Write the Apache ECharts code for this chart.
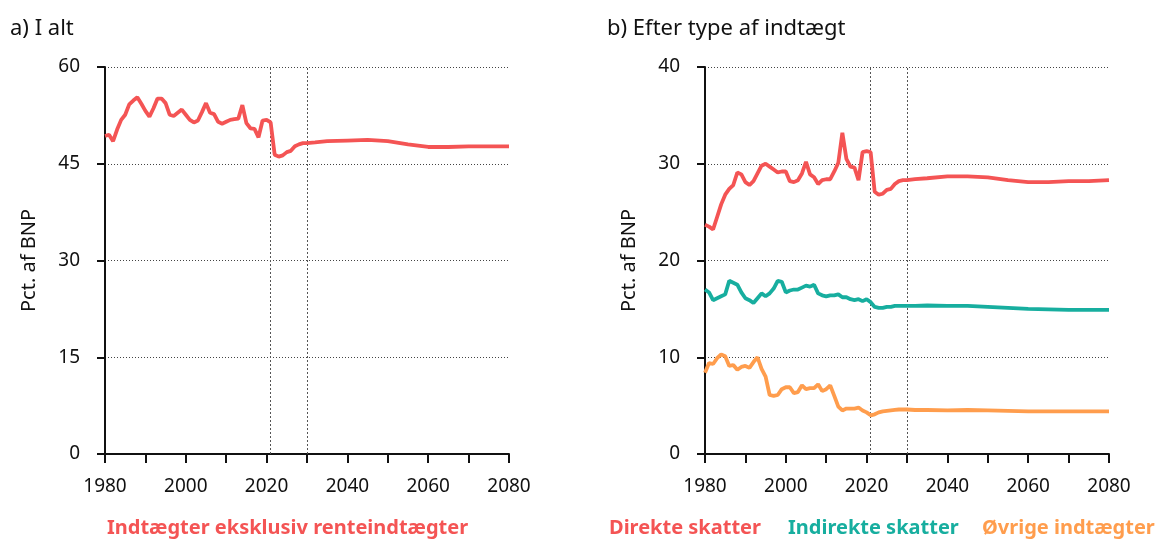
<!DOCTYPE html>
<html>
<head>
<meta charset="utf-8">
<script src="https://cdn.jsdelivr.net/npm/echarts@6/dist/echarts.min.js"></script>
<style>
    html, body { margin: 0; padding: 0; background: #fff; }
    #chart { width: 1158px; height: 541px; }
</style>
</head>
<body>
<div id="chart"></div>
<script>
// år: historik årligt, fremskrivning med spring
var years = [
    1980, 1981, 1982, 1983, 1984, 1985, 1986, 1987, 1988, 1989,
    1990, 1991, 1992, 1993, 1994, 1995, 1996, 1997, 1998, 1999,
    2000, 2001, 2002, 2003, 2004, 2005, 2006, 2007, 2008, 2009,
    2010, 2011, 2012, 2013, 2014, 2015, 2016, 2017, 2018, 2019,
    2020, 2021, 2022, 2023, 2024, 2025, 2026, 2027, 2028, 2029,
    2030, 2032, 2035, 2040, 2045, 2050, 2055, 2060, 2065, 2070,
    2075, 2080
];

// a) I alt
var totalRevenue = [
    49.3, 49.5, 48.5, 50.3, 51.8, 52.6, 54.2, 54.8, 55.3, 54.3,
    53.2, 52.3, 53.6, 55.1, 55.1, 54.4, 52.6, 52.4, 52.9, 53.4,
    52.6, 51.8, 51.4, 51.7, 53.0, 54.4, 52.9, 52.7, 51.5, 51.2,
    51.5, 51.8, 51.9, 52.0, 54.1, 51.3, 50.5, 50.4, 49.1, 51.7,
    51.8, 51.4, 46.4, 46.1, 46.3, 46.8, 47.0, 47.7, 48.0, 48.2,
    48.2, 48.3, 48.5, 48.6, 48.7, 48.5, 48.0, 47.6, 47.6, 47.7,
    47.7, 47.7
];

// b) Efter type af indtægt
var directTaxes = [
    23.7, 23.5, 23.2, 24.5, 25.8, 26.8, 27.4, 27.8, 29.1, 28.9,
    28.1, 27.8, 28.2, 29.0, 29.8, 30.0, 29.7, 29.4, 29.1, 29.2,
    29.2, 28.2, 28.1, 28.3, 29.0, 30.2, 28.9, 28.6, 27.9, 28.3,
    28.4, 28.4, 29.2, 30.1, 33.2, 30.5, 29.7, 29.6, 28.3, 31.2,
    31.3, 31.2, 27.1, 26.8, 26.9, 27.3, 27.4, 27.9, 28.2, 28.3,
    28.3, 28.4, 28.5, 28.7, 28.7, 28.6, 28.3, 28.1, 28.1, 28.2,
    28.2, 28.3
];
var indirectTaxes = [
    17.0, 16.7, 15.9, 16.1, 16.3, 16.5, 17.9, 17.7, 17.5, 16.7,
    16.1, 15.9, 15.6, 16.1, 16.6, 16.3, 16.6, 17.1, 17.9, 17.8,
    16.7, 16.9, 17.0, 17.0, 17.2, 17.4, 17.3, 17.5, 16.6, 16.4,
    16.3, 16.4, 16.4, 16.5, 16.2, 16.2, 16.0, 15.9, 16.0, 15.8,
    16.0, 15.7, 15.2, 15.1, 15.1, 15.2, 15.2, 15.3, 15.3, 15.3,
    15.3, 15.3, 15.35, 15.3, 15.3, 15.2, 15.1, 15.0, 14.95, 14.9,
    14.9, 14.9
];
var otherRevenue = [
    8.4, 9.4, 9.3, 9.9, 10.3, 10.1, 9.1, 9.2, 8.7, 9.0,
    9.1, 8.9, 9.5, 10.0, 8.8, 8.0, 6.1, 6.0, 6.1, 6.7,
    6.9, 6.9, 6.3, 6.4, 7.1, 6.7, 6.8, 6.8, 7.2, 6.5,
    6.7, 7.1, 6.0, 4.9, 4.5, 4.7, 4.7, 4.7, 4.8, 4.5,
    4.3, 4.0, 4.1, 4.3, 4.4, 4.45, 4.5, 4.55, 4.6, 4.6,
    4.6, 4.55, 4.55, 4.5, 4.55, 4.5, 4.45, 4.4, 4.4, 4.4,
    4.4, 4.4
];

var markYears = [2021, 2030];

var RED = "#F45454";
var TEAL = "#17AE9F";
var ORANGE = "#FF9D4D";
var FONT = "Noto Sans";

function pairs(values) {
    return years.map(function (y, i) {
        return [y, values[i]];
    });
}

function xAxisFor(gridIndex) {
    return {
        type: "value",
        gridIndex: gridIndex,
        min: 1980,
        max: 2080,
        interval: 10,
        splitLine: { show: false },
        axisLine: { show: true, lineStyle: { color: "#111", width: 2 } },
        axisTick: { show: true, length: 9, lineStyle: { color: "#111", width: 2 } },
        axisLabel: {
            margin: 23,
            color: "#111",
            fontSize: 19,
            fontFamily: FONT,
            formatter: function (v) {
                return v % 20 === 0 ? String(v) : "";
            }
        }
    };
}

function yAxisFor(gridIndex, max, interval) {
    return {
        type: "value",
        gridIndex: gridIndex,
        min: 0,
        max: max,
        interval: interval,
        name: "Pct. af BNP",
        nameLocation: "middle",
        nameGap: 66,
        nameTextStyle: { color: "#111", fontSize: 20, fontFamily: FONT },
        axisLine: { show: true, lineStyle: { color: "#111", width: 2 } },
        axisTick: { show: true, length: 8, lineStyle: { color: "#111", width: 2 } },
        axisLabel: { margin: 25, color: "#111", fontSize: 19, fontFamily: FONT },
        splitLine: {
            show: true,
            lineStyle: { color: "#444", width: 1, type: [1, 2] }
        }
    };
}

function lineSeries(name, values, color, xi, withMarks) {
    var s = {
        name: name,
        type: "line",
        xAxisIndex: xi,
        yAxisIndex: xi,
        symbol: "none",
        smooth: false,
        lineStyle: { color: color, width: 3.8 },
        itemStyle: { color: color },
        data: pairs(values),
        z: 3
    };
    if (withMarks) {
        s.markLine = {
            silent: true,
            symbol: "none",
            label: { show: false },
            lineStyle: { color: "#555", width: 1, type: [2, 2] },
            data: markYears.map(function (y) { return { xAxis: y }; }),
            z: 1
        };
    }
    return s;
}

// en legende pr. tekst, så de kan placeres frit
function textLegend(name, color, left) {
    return {
        left: left, top: 513,
        icon: "none", itemWidth: 0, itemHeight: 0,
        selectedMode: false,
        textStyle: { fontSize: 20, fontWeight: "bold", fontFamily: FONT },
        data: [{ name: name, textStyle: { color: color } }]
    };
}

var chart = echarts.init(document.getElementById("chart"));
chart.setOption({
    animation: false,
    backgroundColor: "#fff",
    textStyle: { fontFamily: FONT },
    title: [
        {
            text: "a) I alt",
            left: 5, top: 13,
            textStyle: { color: "#111", fontSize: 22, fontWeight: "normal", fontFamily: FONT }
        },
        {
            text: "b) Efter type af indtægt",
            left: 602, top: 13,
            textStyle: { color: "#111", fontSize: 22, fontWeight: "normal", fontFamily: FONT }
        }
    ],
    legend: [
        textLegend("Indtægter eksklusiv renteindtægter", RED, 97),
        textLegend("Direkte skatter", RED, 599),
        textLegend("Indirekte skatter", TEAL, 778),
        textLegend("Øvrige indtægter", ORANGE, 972)
    ],
    grid: [
        { left: 105, top: 67, width: 404, height: 387 },
        { left: 705, top: 67, width: 404, height: 387 }
    ],
    xAxis: [xAxisFor(0), xAxisFor(1)],
    yAxis: [yAxisFor(0, 60, 15), yAxisFor(1, 40, 10)],
    series: [
        lineSeries("Indtægter eksklusiv renteindtægter", totalRevenue, RED, 0, true),
        lineSeries("Direkte skatter", directTaxes, RED, 1, true),
        lineSeries("Indirekte skatter", indirectTaxes, TEAL, 1, false),
        lineSeries("Øvrige indtægter", otherRevenue, ORANGE, 1, false)
    ]
});
</script>
</body>
</html>
